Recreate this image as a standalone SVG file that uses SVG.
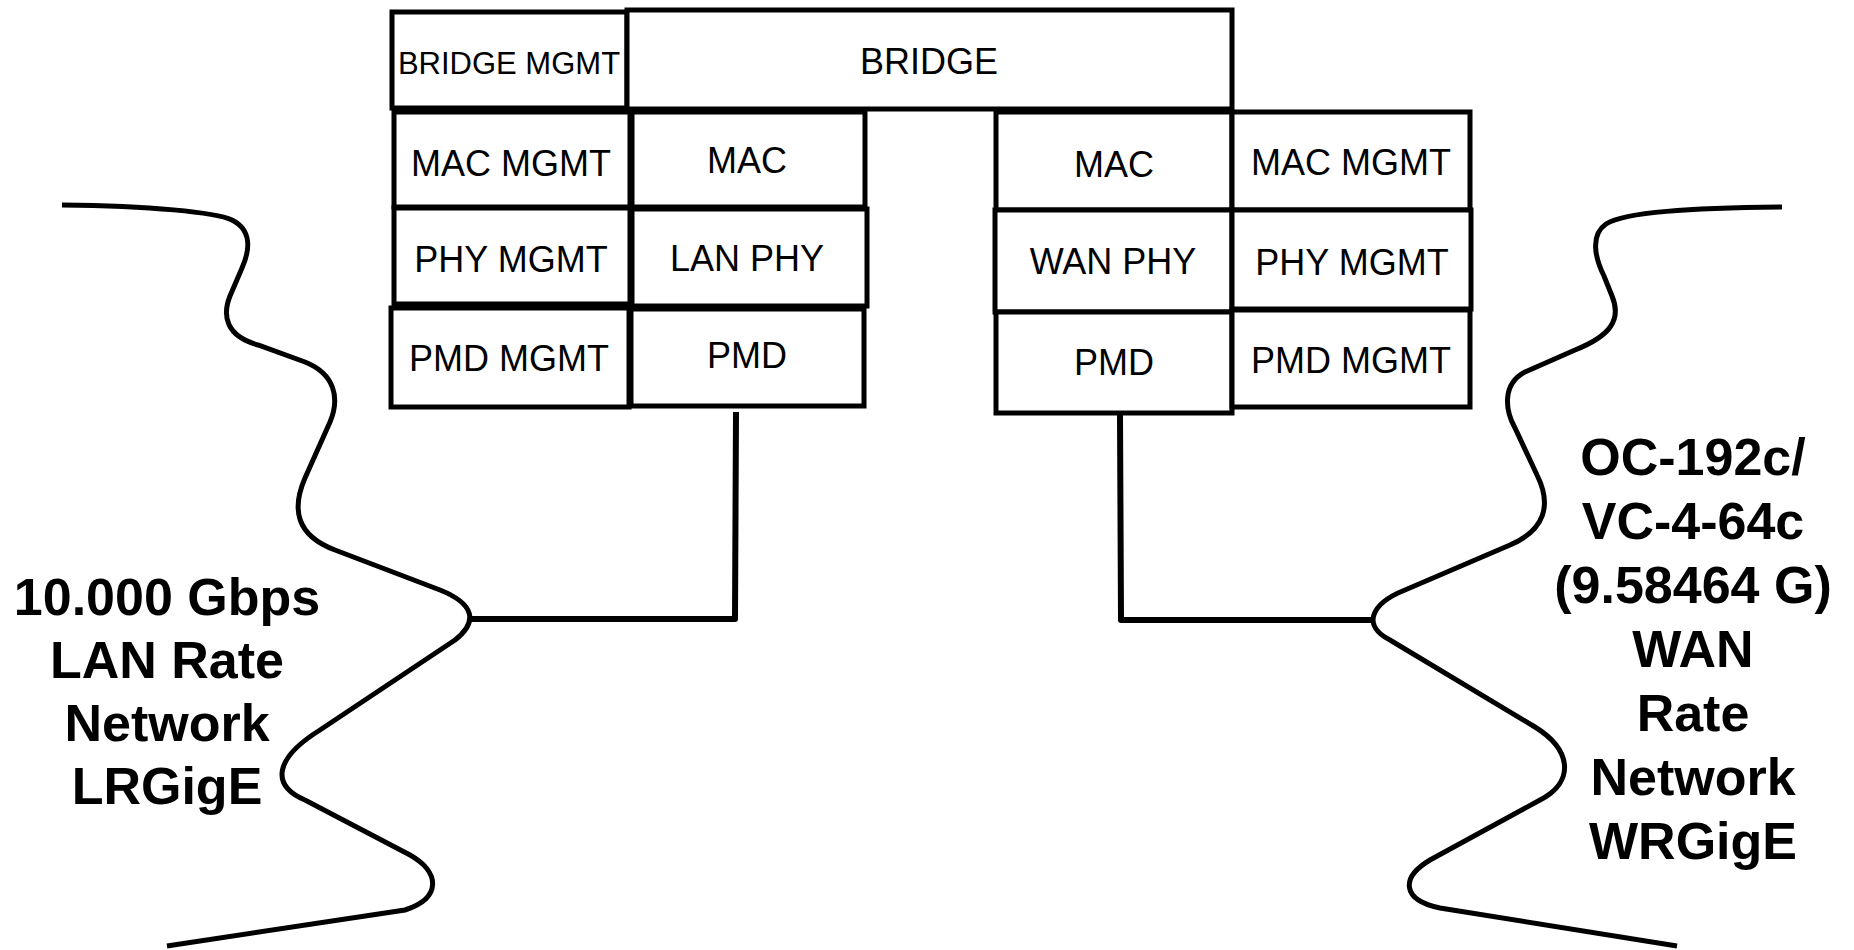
<svg xmlns="http://www.w3.org/2000/svg" width="1854" height="950" viewBox="0 0 1854 950">
<style>
.box{fill:#fff;stroke:#000;stroke-width:5}
.t{font-family:"Liberation Sans",Arial,sans-serif;font-size:36px;fill:#000;text-anchor:middle}
.big{font-family:"Liberation Sans",Arial,sans-serif;font-size:52px;font-weight:bold;fill:#000;text-anchor:middle}
.wire{fill:none;stroke:#000;stroke-width:6;stroke-linejoin:round}
.net{fill:none;stroke:#000;stroke-width:5;stroke-linecap:butt}
</style>
<rect width="1854" height="950" fill="#fff"/>
<g id="bridge-mgmt"><rect class="box" x="392" y="12" width="235" height="96"/><text class="t" x="509" y="74" style="font-size:31px">BRIDGE MGMT</text></g>
<g id="bridge"><rect class="box" x="627" y="10" width="605" height="99"/><text class="t" x="929" y="74">BRIDGE</text></g>
<g id="mac-mgmt-l"><rect class="box" x="394" y="112" width="236" height="95"/><text class="t" x="511" y="176">MAC MGMT</text></g>
<g id="mac-l"><rect class="box" x="632" y="112" width="233" height="95"/><text class="t" x="747" y="173">MAC</text></g>
<g id="phy-mgmt-l"><rect class="box" x="394" y="208" width="236" height="96"/><text class="t" x="511" y="272">PHY MGMT</text></g>
<g id="lan-phy"><rect class="box" x="632" y="209" width="235" height="97"/><text class="t" x="747" y="271">LAN PHY</text></g>
<g id="pmd-mgmt-l"><rect class="box" x="391" y="308" width="238" height="99"/><text class="t" x="509" y="371">PMD MGMT</text></g>
<g id="pmd-l"><rect class="box" x="631" y="309" width="233" height="97"/><text class="t" x="747" y="368">PMD</text></g>
<g id="mac-r"><rect class="box" x="996" y="112" width="236" height="98"/><text class="t" x="1114" y="177">MAC</text></g>
<g id="mac-mgmt-r"><rect class="box" x="1232" y="112" width="238" height="98"/><text class="t" x="1351" y="175">MAC MGMT</text></g>
<g id="wan-phy"><rect class="box" x="995" y="210" width="237" height="102"/><text class="t" x="1113" y="274">WAN PHY</text></g>
<g id="phy-mgmt-r"><rect class="box" x="1232" y="210" width="239" height="99"/><text class="t" x="1352" y="275">PHY MGMT</text></g>
<g id="pmd-r"><rect class="box" x="996" y="312" width="236" height="101"/><text class="t" x="1114" y="375">PMD</text></g>
<g id="pmd-mgmt-r"><rect class="box" x="1232" y="310" width="238" height="97"/><text class="t" x="1351" y="373">PMD MGMT</text></g>
<g id="lan-network">
<path class="net" d="M 62,205 C 150,206 215,212 232,220 C 252,230 250,250 242,268 L 230,296 C 222,316 226,336 258,345 L 305,362 C 335,374 340,398 330,422 L 305,478 C 292,508 295,535 335,550 L 440,590 C 475,604 478,622 455,640 L 320,730 C 275,758 270,785 305,800 L 410,855 C 440,872 442,898 405,910 L 167,946"/>
<text class="big" x="167" y="615">10.000 Gbps</text>
<text class="big" x="167" y="678">LAN Rate</text>
<text class="big" x="167" y="741">Network</text>
<text class="big" x="167" y="804">LRGigE</text>
</g>
<g id="wan-network">
<path class="net" d="M 1782,207 C 1690,208 1625,212 1606,224 C 1590,235 1595,258 1604,276 L 1612,296 C 1622,320 1610,336 1575,350 L 1525,372 C 1502,384 1505,410 1515,428 L 1537,475 C 1552,505 1545,530 1510,545 L 1405,590 C 1370,604 1362,626 1390,640 L 1535,727 C 1572,750 1575,782 1540,800 L 1430,860 C 1400,878 1402,900 1440,908 L 1677,946"/>
<text class="big" x="1693" y="475">OC-192c/</text>
<text class="big" x="1693" y="539">VC-4-64c</text>
<text class="big" x="1693" y="603">(9.58464 G)</text>
<text class="big" x="1693" y="667">WAN</text>
<text class="big" x="1693" y="731">Rate</text>
<text class="big" x="1693" y="795">Network</text>
<text class="big" x="1693" y="859">WRGigE</text>
</g>
<g id="connectors">
<polyline class="wire" points="736,412 735,619 469,619"/>
<polyline class="wire" points="1120,415 1121,620 1372,620"/>
</g>
</svg>
